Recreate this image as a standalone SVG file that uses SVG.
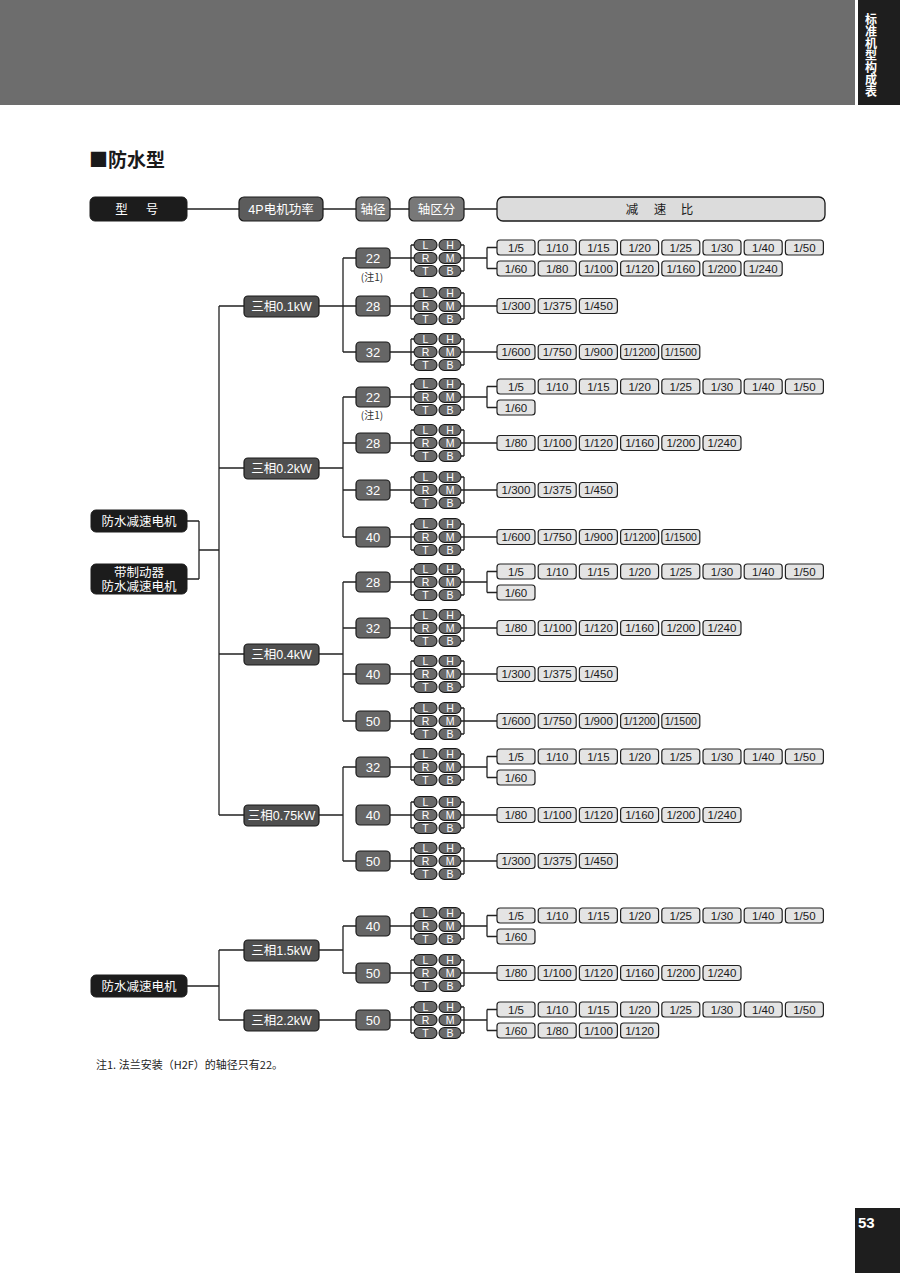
<svg xmlns="http://www.w3.org/2000/svg" width="900" height="1273" viewBox="0 0 900 1273">
<style>
.ln{fill:none;stroke:#222;stroke-width:1.3}
.r{fill:#e4e4e4;stroke:#222;stroke-width:1.2}
.rt{font-family:"Liberation Sans",Arial,sans-serif;font-size:11.5px;fill:#1a1a1a;text-anchor:middle}
.rt2{font-family:"Liberation Sans",Arial,sans-serif;font-size:10.5px;fill:#1a1a1a;text-anchor:middle}
.p{fill:#6a6a6a;stroke:#1a1a1a;stroke-width:1.1}
.pt{font-family:"Liberation Sans",Arial,sans-serif;font-size:10.5px;fill:#fff;text-anchor:middle}
.sh{fill:#666;stroke:#1a1a1a;stroke-width:1.2}
.st{font-family:"Liberation Sans",Arial,sans-serif;font-size:13px;fill:#fff;text-anchor:middle}
.pw{fill:#4f4f4f;stroke:#1a1a1a;stroke-width:1.2}
.wt{font-family:"Liberation Sans","Noto Sans CJK SC",sans-serif;font-size:12.5px;fill:#fff;text-anchor:middle}
.md{fill:#1c1c1c;stroke:#1c1c1c;stroke-width:1}
.cj{font-family:"Noto Sans CJK SC","Liberation Sans",sans-serif}
</style>
<g id="page-header">
<rect x="0" y="0" width="855" height="105" fill="#6d6d6d"/>
<rect x="858" y="0" width="42" height="105" fill="#1e1e1e"/>
<text x="871" y="13" writing-mode="vertical-rl" style="writing-mode:vertical-rl" font-family="Noto Sans CJK SC,sans-serif" font-size="12" font-weight="bold" fill="#fff">标准机型构成表</text>
</g>
<g id="page-number">
<rect x="855" y="1208" width="45" height="65" fill="#1e1e1e"/>
<text x="858" y="1228" font-family="Liberation Sans,Arial,sans-serif" font-size="15" font-weight="bold" fill="#fff">53</text>
</g>
<text id="title" class="cj" x="89" y="167" font-size="19" font-weight="bold" fill="#1a1a1a">■防水型</text>

<g id="connectors">
<path class="ln" d="M187,209H239M323,209H356M390,209H409M464,209H497"/>
<path class="ln" d="M187,521H199M187,579H199M199,521V579M199,550H219M219,306V815M219,306H244M219,468H244M219,654H244M219,815H244"/>
<path class="ln" d="M187,986H219M219,950V1020M219,950H244M219,1020H244"/>
<path class="ln" d="M319,306H343M343,258V352M343,258H356M343,306H356M343,352H356"/>
<path class="ln" d="M319,468H343M343,397V537M343,397H356M343,443H356M343,490H356M343,537H356"/>
<path class="ln" d="M319,654H343M343,582V721M343,582H356M343,628H356M343,674H356M343,721H356"/>
<path class="ln" d="M319,815H343M343,767V861M343,767H356M343,861H356"/>
<path class="ln" d="M319,950H343M343,926V973M343,926H356M343,973H356M319,1020H356"/>
<path class="ln" d="M390,258H414M390,306H414M390,352H414M390,397H414M390,443H414M390,490H414M390,537H414M390,582H414M390,628H414M390,674H414M390,721H414M390,767H414M390,815H414M390,861H414M390,926H414M390,973H414M390,1020H414"/>
<path class="ln" d="M461,258H487M487,247.5V268.5M487,247.5H497M487,268.5H497"/>
<path class="ln" d="M461,397H487M487,386.5V407.5M487,386.5H497M487,407.5H497"/>
<path class="ln" d="M461,582H487M487,571.5V592.5M487,571.5H497M487,592.5H497"/>
<path class="ln" d="M461,767H487M487,756.5V777.5M487,756.5H497M487,777.5H497"/>
<path class="ln" d="M461,926H487M487,915.5V936.5M487,915.5H497M487,936.5H497"/>
<path class="ln" d="M461,1020H487M487,1009.5V1030.5M487,1009.5H497M487,1030.5H497"/>
<path class="ln" d="M461,306H497M461,352H497M461,443H497M461,490H497M461,537H497M461,628H497M461,674H497M461,721H497M461,815H497M461,861H497M461,973H497"/>
</g>

<g id="hdr-model"><rect class="md" x="90" y="197" width="97" height="24" rx="5"/><text class="wt" font-size="13" y="214"><tspan x="121.5">型</tspan><tspan x="152">号</tspan></text></g>
<g id="hdr-power"><rect x="239" y="197" width="84" height="24" rx="5" fill="#5c5c5c" stroke="#1a1a1a" stroke-width="1.2"/><text class="wt" font-size="13" x="281" y="214">4P电机功率</text></g>
<g id="hdr-shaft"><rect x="356" y="197" width="34" height="24" rx="5" fill="#787878" stroke="#1a1a1a" stroke-width="1.2"/><text class="wt" font-size="13" x="373" y="214">轴径</text></g>
<g id="hdr-shafttype"><rect x="409" y="197" width="55" height="24" rx="5" fill="#787878" stroke="#1a1a1a" stroke-width="1.2"/><text class="wt" font-size="13" x="436.5" y="214">轴区分</text></g>
<g id="hdr-ratio"><rect x="497" y="197" width="328" height="24" rx="6" fill="#dcdcdc" stroke="#1a1a1a" stroke-width="1.3"/><text class="wt" font-size="13" y="214" style="fill:#1a1a1a"><tspan x="632">减</tspan><tspan x="660">速</tspan><tspan x="687">比</tspan></text></g>

<g id="model-1"><rect class="md" x="91" y="510" width="96" height="22" rx="5"/><text class="wt" x="139" y="525.5">防水减速电机</text></g>
<g id="model-2"><rect class="md" x="91" y="564" width="96" height="30" rx="5"/><text class="wt" x="139" y="577">带制动器</text><text class="wt" x="139" y="590.5">防水减速电机</text></g>
<g id="model-3"><rect class="md" x="91" y="975" width="96" height="22" rx="5"/><text class="wt" x="139" y="990.5">防水减速电机</text></g>

<g id="pw-01"><rect class="pw" x="244" y="296" width="75" height="21" rx="4"/><text class="wt" x="281.5" y="311">三相0.1kW</text></g>
<g id="pw-02"><rect class="pw" x="244" y="458" width="75" height="21" rx="4"/><text class="wt" x="281.5" y="473">三相0.2kW</text></g>
<g id="pw-04"><rect class="pw" x="244" y="644" width="75" height="21" rx="4"/><text class="wt" x="281.5" y="659">三相0.4kW</text></g>
<g id="pw-075"><rect class="pw" x="244" y="805" width="75" height="21" rx="4"/><text class="wt" x="281.5" y="820">三相0.75kW</text></g>
<g id="pw-15"><rect class="pw" x="244" y="940" width="75" height="21" rx="4"/><text class="wt" x="281.5" y="955">三相1.5kW</text></g>
<g id="pw-22"><rect class="pw" x="244" y="1010" width="75" height="21" rx="4"/><text class="wt" x="281.5" y="1025">三相2.2kW</text></g>

<g id="sh-01-22" transform="translate(0,258)"><rect class="sh" x="356" y="-10" width="34" height="20" rx="4"/><text class="st" x="373" y="4.5">22</text></g>
<text id="note-a" class="cj" x="372" y="281" font-size="10" fill="#333" text-anchor="middle">(注1)</text>
<g id="sh-01-28" transform="translate(0,306)"><rect class="sh" x="356" y="-10" width="34" height="20" rx="4"/><text class="st" x="373" y="4.5">28</text></g>
<g id="sh-01-32" transform="translate(0,352)"><rect class="sh" x="356" y="-10" width="34" height="20" rx="4"/><text class="st" x="373" y="4.5">32</text></g>
<g id="sh-02-22" transform="translate(0,397)"><rect class="sh" x="356" y="-10" width="34" height="20" rx="4"/><text class="st" x="373" y="4.5">22</text></g>
<text id="note-b" class="cj" x="372" y="419" font-size="10" fill="#333" text-anchor="middle">(注1)</text>
<g id="sh-02-28" transform="translate(0,443)"><rect class="sh" x="356" y="-10" width="34" height="20" rx="4"/><text class="st" x="373" y="4.5">28</text></g>
<g id="sh-02-32" transform="translate(0,490)"><rect class="sh" x="356" y="-10" width="34" height="20" rx="4"/><text class="st" x="373" y="4.5">32</text></g>
<g id="sh-02-40" transform="translate(0,537)"><rect class="sh" x="356" y="-10" width="34" height="20" rx="4"/><text class="st" x="373" y="4.5">40</text></g>
<g id="sh-04-28" transform="translate(0,582)"><rect class="sh" x="356" y="-10" width="34" height="20" rx="4"/><text class="st" x="373" y="4.5">28</text></g>
<g id="sh-04-32" transform="translate(0,628)"><rect class="sh" x="356" y="-10" width="34" height="20" rx="4"/><text class="st" x="373" y="4.5">32</text></g>
<g id="sh-04-40" transform="translate(0,674)"><rect class="sh" x="356" y="-10" width="34" height="20" rx="4"/><text class="st" x="373" y="4.5">40</text></g>
<g id="sh-04-50" transform="translate(0,721)"><rect class="sh" x="356" y="-10" width="34" height="20" rx="4"/><text class="st" x="373" y="4.5">50</text></g>
<g id="sh-075-32" transform="translate(0,767)"><rect class="sh" x="356" y="-10" width="34" height="20" rx="4"/><text class="st" x="373" y="4.5">32</text></g>
<g id="sh-075-40" transform="translate(0,815)"><rect class="sh" x="356" y="-10" width="34" height="20" rx="4"/><text class="st" x="373" y="4.5">40</text></g>
<g id="sh-075-50" transform="translate(0,861)"><rect class="sh" x="356" y="-10" width="34" height="20" rx="4"/><text class="st" x="373" y="4.5">50</text></g>
<g id="sh-15-40" transform="translate(0,926)"><rect class="sh" x="356" y="-10" width="34" height="20" rx="4"/><text class="st" x="373" y="4.5">40</text></g>
<g id="sh-15-50" transform="translate(0,973)"><rect class="sh" x="356" y="-10" width="34" height="20" rx="4"/><text class="st" x="373" y="4.5">50</text></g>
<g id="sh-22-50" transform="translate(0,1020)"><rect class="sh" x="356" y="-10" width="34" height="20" rx="4"/><text class="st" x="373" y="4.5">50</text></g>

<g id="lrt-01-22" transform="translate(0,258)"><path class="ln" d="M411,-13V13M411,-13H414M411,13H414M464,-13V13M461,-13H464M461,13H464"/><rect class="p" x="414" y="-18.5" width="23" height="11" rx="5.5"/><rect class="p" x="439" y="-18.5" width="22" height="11" rx="5.5"/><rect class="p" x="414" y="-5.5" width="23" height="11" rx="5.5"/><rect class="p" x="439" y="-5.5" width="22" height="11" rx="5.5"/><rect class="p" x="414" y="7.5" width="23" height="11" rx="5.5"/><rect class="p" x="439" y="7.5" width="22" height="11" rx="5.5"/><text class="pt" x="425.5" y="-9.2">L</text><text class="pt" x="450" y="-9.2">H</text><text class="pt" x="425.5" y="3.8">R</text><text class="pt" x="450" y="3.8">M</text><text class="pt" x="425.5" y="16.8">T</text><text class="pt" x="450" y="16.8">B</text></g>
<g id="lrt-01-28" transform="translate(0,306)"><path class="ln" d="M411,-13V13M411,-13H414M411,13H414M464,-13V13M461,-13H464M461,13H464"/><rect class="p" x="414" y="-18.5" width="23" height="11" rx="5.5"/><rect class="p" x="439" y="-18.5" width="22" height="11" rx="5.5"/><rect class="p" x="414" y="-5.5" width="23" height="11" rx="5.5"/><rect class="p" x="439" y="-5.5" width="22" height="11" rx="5.5"/><rect class="p" x="414" y="7.5" width="23" height="11" rx="5.5"/><rect class="p" x="439" y="7.5" width="22" height="11" rx="5.5"/><text class="pt" x="425.5" y="-9.2">L</text><text class="pt" x="450" y="-9.2">H</text><text class="pt" x="425.5" y="3.8">R</text><text class="pt" x="450" y="3.8">M</text><text class="pt" x="425.5" y="16.8">T</text><text class="pt" x="450" y="16.8">B</text></g>
<g id="lrt-01-32" transform="translate(0,352)"><path class="ln" d="M411,-13V13M411,-13H414M411,13H414M464,-13V13M461,-13H464M461,13H464"/><rect class="p" x="414" y="-18.5" width="23" height="11" rx="5.5"/><rect class="p" x="439" y="-18.5" width="22" height="11" rx="5.5"/><rect class="p" x="414" y="-5.5" width="23" height="11" rx="5.5"/><rect class="p" x="439" y="-5.5" width="22" height="11" rx="5.5"/><rect class="p" x="414" y="7.5" width="23" height="11" rx="5.5"/><rect class="p" x="439" y="7.5" width="22" height="11" rx="5.5"/><text class="pt" x="425.5" y="-9.2">L</text><text class="pt" x="450" y="-9.2">H</text><text class="pt" x="425.5" y="3.8">R</text><text class="pt" x="450" y="3.8">M</text><text class="pt" x="425.5" y="16.8">T</text><text class="pt" x="450" y="16.8">B</text></g>
<g id="lrt-02-22" transform="translate(0,397)"><path class="ln" d="M411,-13V13M411,-13H414M411,13H414M464,-13V13M461,-13H464M461,13H464"/><rect class="p" x="414" y="-18.5" width="23" height="11" rx="5.5"/><rect class="p" x="439" y="-18.5" width="22" height="11" rx="5.5"/><rect class="p" x="414" y="-5.5" width="23" height="11" rx="5.5"/><rect class="p" x="439" y="-5.5" width="22" height="11" rx="5.5"/><rect class="p" x="414" y="7.5" width="23" height="11" rx="5.5"/><rect class="p" x="439" y="7.5" width="22" height="11" rx="5.5"/><text class="pt" x="425.5" y="-9.2">L</text><text class="pt" x="450" y="-9.2">H</text><text class="pt" x="425.5" y="3.8">R</text><text class="pt" x="450" y="3.8">M</text><text class="pt" x="425.5" y="16.8">T</text><text class="pt" x="450" y="16.8">B</text></g>
<g id="lrt-02-28" transform="translate(0,443)"><path class="ln" d="M411,-13V13M411,-13H414M411,13H414M464,-13V13M461,-13H464M461,13H464"/><rect class="p" x="414" y="-18.5" width="23" height="11" rx="5.5"/><rect class="p" x="439" y="-18.5" width="22" height="11" rx="5.5"/><rect class="p" x="414" y="-5.5" width="23" height="11" rx="5.5"/><rect class="p" x="439" y="-5.5" width="22" height="11" rx="5.5"/><rect class="p" x="414" y="7.5" width="23" height="11" rx="5.5"/><rect class="p" x="439" y="7.5" width="22" height="11" rx="5.5"/><text class="pt" x="425.5" y="-9.2">L</text><text class="pt" x="450" y="-9.2">H</text><text class="pt" x="425.5" y="3.8">R</text><text class="pt" x="450" y="3.8">M</text><text class="pt" x="425.5" y="16.8">T</text><text class="pt" x="450" y="16.8">B</text></g>
<g id="lrt-02-32" transform="translate(0,490)"><path class="ln" d="M411,-13V13M411,-13H414M411,13H414M464,-13V13M461,-13H464M461,13H464"/><rect class="p" x="414" y="-18.5" width="23" height="11" rx="5.5"/><rect class="p" x="439" y="-18.5" width="22" height="11" rx="5.5"/><rect class="p" x="414" y="-5.5" width="23" height="11" rx="5.5"/><rect class="p" x="439" y="-5.5" width="22" height="11" rx="5.5"/><rect class="p" x="414" y="7.5" width="23" height="11" rx="5.5"/><rect class="p" x="439" y="7.5" width="22" height="11" rx="5.5"/><text class="pt" x="425.5" y="-9.2">L</text><text class="pt" x="450" y="-9.2">H</text><text class="pt" x="425.5" y="3.8">R</text><text class="pt" x="450" y="3.8">M</text><text class="pt" x="425.5" y="16.8">T</text><text class="pt" x="450" y="16.8">B</text></g>
<g id="lrt-02-40" transform="translate(0,537)"><path class="ln" d="M411,-13V13M411,-13H414M411,13H414M464,-13V13M461,-13H464M461,13H464"/><rect class="p" x="414" y="-18.5" width="23" height="11" rx="5.5"/><rect class="p" x="439" y="-18.5" width="22" height="11" rx="5.5"/><rect class="p" x="414" y="-5.5" width="23" height="11" rx="5.5"/><rect class="p" x="439" y="-5.5" width="22" height="11" rx="5.5"/><rect class="p" x="414" y="7.5" width="23" height="11" rx="5.5"/><rect class="p" x="439" y="7.5" width="22" height="11" rx="5.5"/><text class="pt" x="425.5" y="-9.2">L</text><text class="pt" x="450" y="-9.2">H</text><text class="pt" x="425.5" y="3.8">R</text><text class="pt" x="450" y="3.8">M</text><text class="pt" x="425.5" y="16.8">T</text><text class="pt" x="450" y="16.8">B</text></g>
<g id="lrt-04-28" transform="translate(0,582)"><path class="ln" d="M411,-13V13M411,-13H414M411,13H414M464,-13V13M461,-13H464M461,13H464"/><rect class="p" x="414" y="-18.5" width="23" height="11" rx="5.5"/><rect class="p" x="439" y="-18.5" width="22" height="11" rx="5.5"/><rect class="p" x="414" y="-5.5" width="23" height="11" rx="5.5"/><rect class="p" x="439" y="-5.5" width="22" height="11" rx="5.5"/><rect class="p" x="414" y="7.5" width="23" height="11" rx="5.5"/><rect class="p" x="439" y="7.5" width="22" height="11" rx="5.5"/><text class="pt" x="425.5" y="-9.2">L</text><text class="pt" x="450" y="-9.2">H</text><text class="pt" x="425.5" y="3.8">R</text><text class="pt" x="450" y="3.8">M</text><text class="pt" x="425.5" y="16.8">T</text><text class="pt" x="450" y="16.8">B</text></g>
<g id="lrt-04-32" transform="translate(0,628)"><path class="ln" d="M411,-13V13M411,-13H414M411,13H414M464,-13V13M461,-13H464M461,13H464"/><rect class="p" x="414" y="-18.5" width="23" height="11" rx="5.5"/><rect class="p" x="439" y="-18.5" width="22" height="11" rx="5.5"/><rect class="p" x="414" y="-5.5" width="23" height="11" rx="5.5"/><rect class="p" x="439" y="-5.5" width="22" height="11" rx="5.5"/><rect class="p" x="414" y="7.5" width="23" height="11" rx="5.5"/><rect class="p" x="439" y="7.5" width="22" height="11" rx="5.5"/><text class="pt" x="425.5" y="-9.2">L</text><text class="pt" x="450" y="-9.2">H</text><text class="pt" x="425.5" y="3.8">R</text><text class="pt" x="450" y="3.8">M</text><text class="pt" x="425.5" y="16.8">T</text><text class="pt" x="450" y="16.8">B</text></g>
<g id="lrt-04-40" transform="translate(0,674)"><path class="ln" d="M411,-13V13M411,-13H414M411,13H414M464,-13V13M461,-13H464M461,13H464"/><rect class="p" x="414" y="-18.5" width="23" height="11" rx="5.5"/><rect class="p" x="439" y="-18.5" width="22" height="11" rx="5.5"/><rect class="p" x="414" y="-5.5" width="23" height="11" rx="5.5"/><rect class="p" x="439" y="-5.5" width="22" height="11" rx="5.5"/><rect class="p" x="414" y="7.5" width="23" height="11" rx="5.5"/><rect class="p" x="439" y="7.5" width="22" height="11" rx="5.5"/><text class="pt" x="425.5" y="-9.2">L</text><text class="pt" x="450" y="-9.2">H</text><text class="pt" x="425.5" y="3.8">R</text><text class="pt" x="450" y="3.8">M</text><text class="pt" x="425.5" y="16.8">T</text><text class="pt" x="450" y="16.8">B</text></g>
<g id="lrt-04-50" transform="translate(0,721)"><path class="ln" d="M411,-13V13M411,-13H414M411,13H414M464,-13V13M461,-13H464M461,13H464"/><rect class="p" x="414" y="-18.5" width="23" height="11" rx="5.5"/><rect class="p" x="439" y="-18.5" width="22" height="11" rx="5.5"/><rect class="p" x="414" y="-5.5" width="23" height="11" rx="5.5"/><rect class="p" x="439" y="-5.5" width="22" height="11" rx="5.5"/><rect class="p" x="414" y="7.5" width="23" height="11" rx="5.5"/><rect class="p" x="439" y="7.5" width="22" height="11" rx="5.5"/><text class="pt" x="425.5" y="-9.2">L</text><text class="pt" x="450" y="-9.2">H</text><text class="pt" x="425.5" y="3.8">R</text><text class="pt" x="450" y="3.8">M</text><text class="pt" x="425.5" y="16.8">T</text><text class="pt" x="450" y="16.8">B</text></g>
<g id="lrt-075-32" transform="translate(0,767)"><path class="ln" d="M411,-13V13M411,-13H414M411,13H414M464,-13V13M461,-13H464M461,13H464"/><rect class="p" x="414" y="-18.5" width="23" height="11" rx="5.5"/><rect class="p" x="439" y="-18.5" width="22" height="11" rx="5.5"/><rect class="p" x="414" y="-5.5" width="23" height="11" rx="5.5"/><rect class="p" x="439" y="-5.5" width="22" height="11" rx="5.5"/><rect class="p" x="414" y="7.5" width="23" height="11" rx="5.5"/><rect class="p" x="439" y="7.5" width="22" height="11" rx="5.5"/><text class="pt" x="425.5" y="-9.2">L</text><text class="pt" x="450" y="-9.2">H</text><text class="pt" x="425.5" y="3.8">R</text><text class="pt" x="450" y="3.8">M</text><text class="pt" x="425.5" y="16.8">T</text><text class="pt" x="450" y="16.8">B</text></g>
<g id="lrt-075-40" transform="translate(0,815)"><path class="ln" d="M411,-13V13M411,-13H414M411,13H414M464,-13V13M461,-13H464M461,13H464"/><rect class="p" x="414" y="-18.5" width="23" height="11" rx="5.5"/><rect class="p" x="439" y="-18.5" width="22" height="11" rx="5.5"/><rect class="p" x="414" y="-5.5" width="23" height="11" rx="5.5"/><rect class="p" x="439" y="-5.5" width="22" height="11" rx="5.5"/><rect class="p" x="414" y="7.5" width="23" height="11" rx="5.5"/><rect class="p" x="439" y="7.5" width="22" height="11" rx="5.5"/><text class="pt" x="425.5" y="-9.2">L</text><text class="pt" x="450" y="-9.2">H</text><text class="pt" x="425.5" y="3.8">R</text><text class="pt" x="450" y="3.8">M</text><text class="pt" x="425.5" y="16.8">T</text><text class="pt" x="450" y="16.8">B</text></g>
<g id="lrt-075-50" transform="translate(0,861)"><path class="ln" d="M411,-13V13M411,-13H414M411,13H414M464,-13V13M461,-13H464M461,13H464"/><rect class="p" x="414" y="-18.5" width="23" height="11" rx="5.5"/><rect class="p" x="439" y="-18.5" width="22" height="11" rx="5.5"/><rect class="p" x="414" y="-5.5" width="23" height="11" rx="5.5"/><rect class="p" x="439" y="-5.5" width="22" height="11" rx="5.5"/><rect class="p" x="414" y="7.5" width="23" height="11" rx="5.5"/><rect class="p" x="439" y="7.5" width="22" height="11" rx="5.5"/><text class="pt" x="425.5" y="-9.2">L</text><text class="pt" x="450" y="-9.2">H</text><text class="pt" x="425.5" y="3.8">R</text><text class="pt" x="450" y="3.8">M</text><text class="pt" x="425.5" y="16.8">T</text><text class="pt" x="450" y="16.8">B</text></g>
<g id="lrt-15-40" transform="translate(0,926)"><path class="ln" d="M411,-13V13M411,-13H414M411,13H414M464,-13V13M461,-13H464M461,13H464"/><rect class="p" x="414" y="-18.5" width="23" height="11" rx="5.5"/><rect class="p" x="439" y="-18.5" width="22" height="11" rx="5.5"/><rect class="p" x="414" y="-5.5" width="23" height="11" rx="5.5"/><rect class="p" x="439" y="-5.5" width="22" height="11" rx="5.5"/><rect class="p" x="414" y="7.5" width="23" height="11" rx="5.5"/><rect class="p" x="439" y="7.5" width="22" height="11" rx="5.5"/><text class="pt" x="425.5" y="-9.2">L</text><text class="pt" x="450" y="-9.2">H</text><text class="pt" x="425.5" y="3.8">R</text><text class="pt" x="450" y="3.8">M</text><text class="pt" x="425.5" y="16.8">T</text><text class="pt" x="450" y="16.8">B</text></g>
<g id="lrt-15-50" transform="translate(0,973)"><path class="ln" d="M411,-13V13M411,-13H414M411,13H414M464,-13V13M461,-13H464M461,13H464"/><rect class="p" x="414" y="-18.5" width="23" height="11" rx="5.5"/><rect class="p" x="439" y="-18.5" width="22" height="11" rx="5.5"/><rect class="p" x="414" y="-5.5" width="23" height="11" rx="5.5"/><rect class="p" x="439" y="-5.5" width="22" height="11" rx="5.5"/><rect class="p" x="414" y="7.5" width="23" height="11" rx="5.5"/><rect class="p" x="439" y="7.5" width="22" height="11" rx="5.5"/><text class="pt" x="425.5" y="-9.2">L</text><text class="pt" x="450" y="-9.2">H</text><text class="pt" x="425.5" y="3.8">R</text><text class="pt" x="450" y="3.8">M</text><text class="pt" x="425.5" y="16.8">T</text><text class="pt" x="450" y="16.8">B</text></g>
<g id="lrt-22-50" transform="translate(0,1020)"><path class="ln" d="M411,-13V13M411,-13H414M411,13H414M464,-13V13M461,-13H464M461,13H464"/><rect class="p" x="414" y="-18.5" width="23" height="11" rx="5.5"/><rect class="p" x="439" y="-18.5" width="22" height="11" rx="5.5"/><rect class="p" x="414" y="-5.5" width="23" height="11" rx="5.5"/><rect class="p" x="439" y="-5.5" width="22" height="11" rx="5.5"/><rect class="p" x="414" y="7.5" width="23" height="11" rx="5.5"/><rect class="p" x="439" y="7.5" width="22" height="11" rx="5.5"/><text class="pt" x="425.5" y="-9.2">L</text><text class="pt" x="450" y="-9.2">H</text><text class="pt" x="425.5" y="3.8">R</text><text class="pt" x="450" y="3.8">M</text><text class="pt" x="425.5" y="16.8">T</text><text class="pt" x="450" y="16.8">B</text></g>

<g id="rat-01-22a" transform="translate(0,247.5)"><rect class="r" x="497" y="-7.5" width="38" height="15" rx="3"/><text class="rt" x="516" y="4">1/5</text><rect class="r" x="538.2" y="-7.5" width="38" height="15" rx="3"/><text class="rt" x="557.2" y="4">1/10</text><rect class="r" x="579.4" y="-7.5" width="38" height="15" rx="3"/><text class="rt" x="598.4" y="4">1/15</text><rect class="r" x="620.6" y="-7.5" width="38" height="15" rx="3"/><text class="rt" x="639.6" y="4">1/20</text><rect class="r" x="661.8" y="-7.5" width="38" height="15" rx="3"/><text class="rt" x="680.8" y="4">1/25</text><rect class="r" x="703" y="-7.5" width="38" height="15" rx="3"/><text class="rt" x="722" y="4">1/30</text><rect class="r" x="744.2" y="-7.5" width="38" height="15" rx="3"/><text class="rt" x="763.2" y="4">1/40</text><rect class="r" x="785.4" y="-7.5" width="38" height="15" rx="3"/><text class="rt" x="804.4" y="4">1/50</text></g>
<g id="rat-01-22b" transform="translate(0,268.5)"><rect class="r" x="497" y="-7.5" width="38" height="15" rx="3"/><text class="rt" x="516" y="4">1/60</text><rect class="r" x="538.2" y="-7.5" width="38" height="15" rx="3"/><text class="rt" x="557.2" y="4">1/80</text><rect class="r" x="579.4" y="-7.5" width="38" height="15" rx="3"/><text class="rt" x="598.4" y="4">1/100</text><rect class="r" x="620.6" y="-7.5" width="38" height="15" rx="3"/><text class="rt" x="639.6" y="4">1/120</text><rect class="r" x="661.8" y="-7.5" width="38" height="15" rx="3"/><text class="rt" x="680.8" y="4">1/160</text><rect class="r" x="703" y="-7.5" width="38" height="15" rx="3"/><text class="rt" x="722" y="4">1/200</text><rect class="r" x="744.2" y="-7.5" width="38" height="15" rx="3"/><text class="rt" x="763.2" y="4">1/240</text></g>
<g id="rat-01-28" transform="translate(0,306)"><rect class="r" x="497" y="-7.5" width="38" height="15" rx="3"/><text class="rt" x="516" y="4">1/300</text><rect class="r" x="538.2" y="-7.5" width="38" height="15" rx="3"/><text class="rt" x="557.2" y="4">1/375</text><rect class="r" x="579.4" y="-7.5" width="38" height="15" rx="3"/><text class="rt" x="598.4" y="4">1/450</text></g>
<g id="rat-01-32" transform="translate(0,352)"><rect class="r" x="497" y="-7.5" width="38" height="15" rx="3"/><text class="rt" x="516" y="4">1/600</text><rect class="r" x="538.2" y="-7.5" width="38" height="15" rx="3"/><text class="rt" x="557.2" y="4">1/750</text><rect class="r" x="579.4" y="-7.5" width="38" height="15" rx="3"/><text class="rt" x="598.4" y="4">1/900</text><rect class="r" x="620.6" y="-7.5" width="38" height="15" rx="3"/><text class="rt2" x="639.6" y="4">1/1200</text><rect class="r" x="661.8" y="-7.5" width="38" height="15" rx="3"/><text class="rt2" x="680.8" y="4">1/1500</text></g>

<g id="rat-02-22a" transform="translate(0,386.5)"><rect class="r" x="497" y="-7.5" width="38" height="15" rx="3"/><text class="rt" x="516" y="4">1/5</text><rect class="r" x="538.2" y="-7.5" width="38" height="15" rx="3"/><text class="rt" x="557.2" y="4">1/10</text><rect class="r" x="579.4" y="-7.5" width="38" height="15" rx="3"/><text class="rt" x="598.4" y="4">1/15</text><rect class="r" x="620.6" y="-7.5" width="38" height="15" rx="3"/><text class="rt" x="639.6" y="4">1/20</text><rect class="r" x="661.8" y="-7.5" width="38" height="15" rx="3"/><text class="rt" x="680.8" y="4">1/25</text><rect class="r" x="703" y="-7.5" width="38" height="15" rx="3"/><text class="rt" x="722" y="4">1/30</text><rect class="r" x="744.2" y="-7.5" width="38" height="15" rx="3"/><text class="rt" x="763.2" y="4">1/40</text><rect class="r" x="785.4" y="-7.5" width="38" height="15" rx="3"/><text class="rt" x="804.4" y="4">1/50</text></g>
<g id="rat-02-22b" transform="translate(0,407.5)"><rect class="r" x="497" y="-7.5" width="38" height="15" rx="3"/><text class="rt" x="516" y="4">1/60</text></g>
<g id="rat-02-28" transform="translate(0,443)"><rect class="r" x="497" y="-7.5" width="38" height="15" rx="3"/><text class="rt" x="516" y="4">1/80</text><rect class="r" x="538.2" y="-7.5" width="38" height="15" rx="3"/><text class="rt" x="557.2" y="4">1/100</text><rect class="r" x="579.4" y="-7.5" width="38" height="15" rx="3"/><text class="rt" x="598.4" y="4">1/120</text><rect class="r" x="620.6" y="-7.5" width="38" height="15" rx="3"/><text class="rt" x="639.6" y="4">1/160</text><rect class="r" x="661.8" y="-7.5" width="38" height="15" rx="3"/><text class="rt" x="680.8" y="4">1/200</text><rect class="r" x="703" y="-7.5" width="38" height="15" rx="3"/><text class="rt" x="722" y="4">1/240</text></g>
<g id="rat-02-32" transform="translate(0,490)"><rect class="r" x="497" y="-7.5" width="38" height="15" rx="3"/><text class="rt" x="516" y="4">1/300</text><rect class="r" x="538.2" y="-7.5" width="38" height="15" rx="3"/><text class="rt" x="557.2" y="4">1/375</text><rect class="r" x="579.4" y="-7.5" width="38" height="15" rx="3"/><text class="rt" x="598.4" y="4">1/450</text></g>
<g id="rat-02-40" transform="translate(0,537)"><rect class="r" x="497" y="-7.5" width="38" height="15" rx="3"/><text class="rt" x="516" y="4">1/600</text><rect class="r" x="538.2" y="-7.5" width="38" height="15" rx="3"/><text class="rt" x="557.2" y="4">1/750</text><rect class="r" x="579.4" y="-7.5" width="38" height="15" rx="3"/><text class="rt" x="598.4" y="4">1/900</text><rect class="r" x="620.6" y="-7.5" width="38" height="15" rx="3"/><text class="rt2" x="639.6" y="4">1/1200</text><rect class="r" x="661.8" y="-7.5" width="38" height="15" rx="3"/><text class="rt2" x="680.8" y="4">1/1500</text></g>

<g id="rat-04-28a" transform="translate(0,571.5)"><rect class="r" x="497" y="-7.5" width="38" height="15" rx="3"/><text class="rt" x="516" y="4">1/5</text><rect class="r" x="538.2" y="-7.5" width="38" height="15" rx="3"/><text class="rt" x="557.2" y="4">1/10</text><rect class="r" x="579.4" y="-7.5" width="38" height="15" rx="3"/><text class="rt" x="598.4" y="4">1/15</text><rect class="r" x="620.6" y="-7.5" width="38" height="15" rx="3"/><text class="rt" x="639.6" y="4">1/20</text><rect class="r" x="661.8" y="-7.5" width="38" height="15" rx="3"/><text class="rt" x="680.8" y="4">1/25</text><rect class="r" x="703" y="-7.5" width="38" height="15" rx="3"/><text class="rt" x="722" y="4">1/30</text><rect class="r" x="744.2" y="-7.5" width="38" height="15" rx="3"/><text class="rt" x="763.2" y="4">1/40</text><rect class="r" x="785.4" y="-7.5" width="38" height="15" rx="3"/><text class="rt" x="804.4" y="4">1/50</text></g>
<g id="rat-04-28b" transform="translate(0,592.5)"><rect class="r" x="497" y="-7.5" width="38" height="15" rx="3"/><text class="rt" x="516" y="4">1/60</text></g>
<g id="rat-04-32" transform="translate(0,628)"><rect class="r" x="497" y="-7.5" width="38" height="15" rx="3"/><text class="rt" x="516" y="4">1/80</text><rect class="r" x="538.2" y="-7.5" width="38" height="15" rx="3"/><text class="rt" x="557.2" y="4">1/100</text><rect class="r" x="579.4" y="-7.5" width="38" height="15" rx="3"/><text class="rt" x="598.4" y="4">1/120</text><rect class="r" x="620.6" y="-7.5" width="38" height="15" rx="3"/><text class="rt" x="639.6" y="4">1/160</text><rect class="r" x="661.8" y="-7.5" width="38" height="15" rx="3"/><text class="rt" x="680.8" y="4">1/200</text><rect class="r" x="703" y="-7.5" width="38" height="15" rx="3"/><text class="rt" x="722" y="4">1/240</text></g>
<g id="rat-04-40" transform="translate(0,674)"><rect class="r" x="497" y="-7.5" width="38" height="15" rx="3"/><text class="rt" x="516" y="4">1/300</text><rect class="r" x="538.2" y="-7.5" width="38" height="15" rx="3"/><text class="rt" x="557.2" y="4">1/375</text><rect class="r" x="579.4" y="-7.5" width="38" height="15" rx="3"/><text class="rt" x="598.4" y="4">1/450</text></g>
<g id="rat-04-50" transform="translate(0,721)"><rect class="r" x="497" y="-7.5" width="38" height="15" rx="3"/><text class="rt" x="516" y="4">1/600</text><rect class="r" x="538.2" y="-7.5" width="38" height="15" rx="3"/><text class="rt" x="557.2" y="4">1/750</text><rect class="r" x="579.4" y="-7.5" width="38" height="15" rx="3"/><text class="rt" x="598.4" y="4">1/900</text><rect class="r" x="620.6" y="-7.5" width="38" height="15" rx="3"/><text class="rt2" x="639.6" y="4">1/1200</text><rect class="r" x="661.8" y="-7.5" width="38" height="15" rx="3"/><text class="rt2" x="680.8" y="4">1/1500</text></g>

<g id="rat-075-32a" transform="translate(0,756.5)"><rect class="r" x="497" y="-7.5" width="38" height="15" rx="3"/><text class="rt" x="516" y="4">1/5</text><rect class="r" x="538.2" y="-7.5" width="38" height="15" rx="3"/><text class="rt" x="557.2" y="4">1/10</text><rect class="r" x="579.4" y="-7.5" width="38" height="15" rx="3"/><text class="rt" x="598.4" y="4">1/15</text><rect class="r" x="620.6" y="-7.5" width="38" height="15" rx="3"/><text class="rt" x="639.6" y="4">1/20</text><rect class="r" x="661.8" y="-7.5" width="38" height="15" rx="3"/><text class="rt" x="680.8" y="4">1/25</text><rect class="r" x="703" y="-7.5" width="38" height="15" rx="3"/><text class="rt" x="722" y="4">1/30</text><rect class="r" x="744.2" y="-7.5" width="38" height="15" rx="3"/><text class="rt" x="763.2" y="4">1/40</text><rect class="r" x="785.4" y="-7.5" width="38" height="15" rx="3"/><text class="rt" x="804.4" y="4">1/50</text></g>
<g id="rat-075-32b" transform="translate(0,777.5)"><rect class="r" x="497" y="-7.5" width="38" height="15" rx="3"/><text class="rt" x="516" y="4">1/60</text></g>
<g id="rat-075-40" transform="translate(0,815)"><rect class="r" x="497" y="-7.5" width="38" height="15" rx="3"/><text class="rt" x="516" y="4">1/80</text><rect class="r" x="538.2" y="-7.5" width="38" height="15" rx="3"/><text class="rt" x="557.2" y="4">1/100</text><rect class="r" x="579.4" y="-7.5" width="38" height="15" rx="3"/><text class="rt" x="598.4" y="4">1/120</text><rect class="r" x="620.6" y="-7.5" width="38" height="15" rx="3"/><text class="rt" x="639.6" y="4">1/160</text><rect class="r" x="661.8" y="-7.5" width="38" height="15" rx="3"/><text class="rt" x="680.8" y="4">1/200</text><rect class="r" x="703" y="-7.5" width="38" height="15" rx="3"/><text class="rt" x="722" y="4">1/240</text></g>
<g id="rat-075-50" transform="translate(0,861)"><rect class="r" x="497" y="-7.5" width="38" height="15" rx="3"/><text class="rt" x="516" y="4">1/300</text><rect class="r" x="538.2" y="-7.5" width="38" height="15" rx="3"/><text class="rt" x="557.2" y="4">1/375</text><rect class="r" x="579.4" y="-7.5" width="38" height="15" rx="3"/><text class="rt" x="598.4" y="4">1/450</text></g>

<g id="rat-15-40a" transform="translate(0,915.5)"><rect class="r" x="497" y="-7.5" width="38" height="15" rx="3"/><text class="rt" x="516" y="4">1/5</text><rect class="r" x="538.2" y="-7.5" width="38" height="15" rx="3"/><text class="rt" x="557.2" y="4">1/10</text><rect class="r" x="579.4" y="-7.5" width="38" height="15" rx="3"/><text class="rt" x="598.4" y="4">1/15</text><rect class="r" x="620.6" y="-7.5" width="38" height="15" rx="3"/><text class="rt" x="639.6" y="4">1/20</text><rect class="r" x="661.8" y="-7.5" width="38" height="15" rx="3"/><text class="rt" x="680.8" y="4">1/25</text><rect class="r" x="703" y="-7.5" width="38" height="15" rx="3"/><text class="rt" x="722" y="4">1/30</text><rect class="r" x="744.2" y="-7.5" width="38" height="15" rx="3"/><text class="rt" x="763.2" y="4">1/40</text><rect class="r" x="785.4" y="-7.5" width="38" height="15" rx="3"/><text class="rt" x="804.4" y="4">1/50</text></g>
<g id="rat-15-40b" transform="translate(0,936.5)"><rect class="r" x="497" y="-7.5" width="38" height="15" rx="3"/><text class="rt" x="516" y="4">1/60</text></g>
<g id="rat-15-50" transform="translate(0,973)"><rect class="r" x="497" y="-7.5" width="38" height="15" rx="3"/><text class="rt" x="516" y="4">1/80</text><rect class="r" x="538.2" y="-7.5" width="38" height="15" rx="3"/><text class="rt" x="557.2" y="4">1/100</text><rect class="r" x="579.4" y="-7.5" width="38" height="15" rx="3"/><text class="rt" x="598.4" y="4">1/120</text><rect class="r" x="620.6" y="-7.5" width="38" height="15" rx="3"/><text class="rt" x="639.6" y="4">1/160</text><rect class="r" x="661.8" y="-7.5" width="38" height="15" rx="3"/><text class="rt" x="680.8" y="4">1/200</text><rect class="r" x="703" y="-7.5" width="38" height="15" rx="3"/><text class="rt" x="722" y="4">1/240</text></g>

<g id="rat-22-50a" transform="translate(0,1009.5)"><rect class="r" x="497" y="-7.5" width="38" height="15" rx="3"/><text class="rt" x="516" y="4">1/5</text><rect class="r" x="538.2" y="-7.5" width="38" height="15" rx="3"/><text class="rt" x="557.2" y="4">1/10</text><rect class="r" x="579.4" y="-7.5" width="38" height="15" rx="3"/><text class="rt" x="598.4" y="4">1/15</text><rect class="r" x="620.6" y="-7.5" width="38" height="15" rx="3"/><text class="rt" x="639.6" y="4">1/20</text><rect class="r" x="661.8" y="-7.5" width="38" height="15" rx="3"/><text class="rt" x="680.8" y="4">1/25</text><rect class="r" x="703" y="-7.5" width="38" height="15" rx="3"/><text class="rt" x="722" y="4">1/30</text><rect class="r" x="744.2" y="-7.5" width="38" height="15" rx="3"/><text class="rt" x="763.2" y="4">1/40</text><rect class="r" x="785.4" y="-7.5" width="38" height="15" rx="3"/><text class="rt" x="804.4" y="4">1/50</text></g>
<g id="rat-22-50b" transform="translate(0,1030.5)"><rect class="r" x="497" y="-7.5" width="38" height="15" rx="3"/><text class="rt" x="516" y="4">1/60</text><rect class="r" x="538.2" y="-7.5" width="38" height="15" rx="3"/><text class="rt" x="557.2" y="4">1/80</text><rect class="r" x="579.4" y="-7.5" width="38" height="15" rx="3"/><text class="rt" x="598.4" y="4">1/100</text><rect class="r" x="620.6" y="-7.5" width="38" height="15" rx="3"/><text class="rt" x="639.6" y="4">1/120</text></g>

<text id="footnote" class="cj" x="96" y="1069" font-size="11" fill="#222">注1. 法兰安装（H2F）的轴径只有22。</text>
</svg>
